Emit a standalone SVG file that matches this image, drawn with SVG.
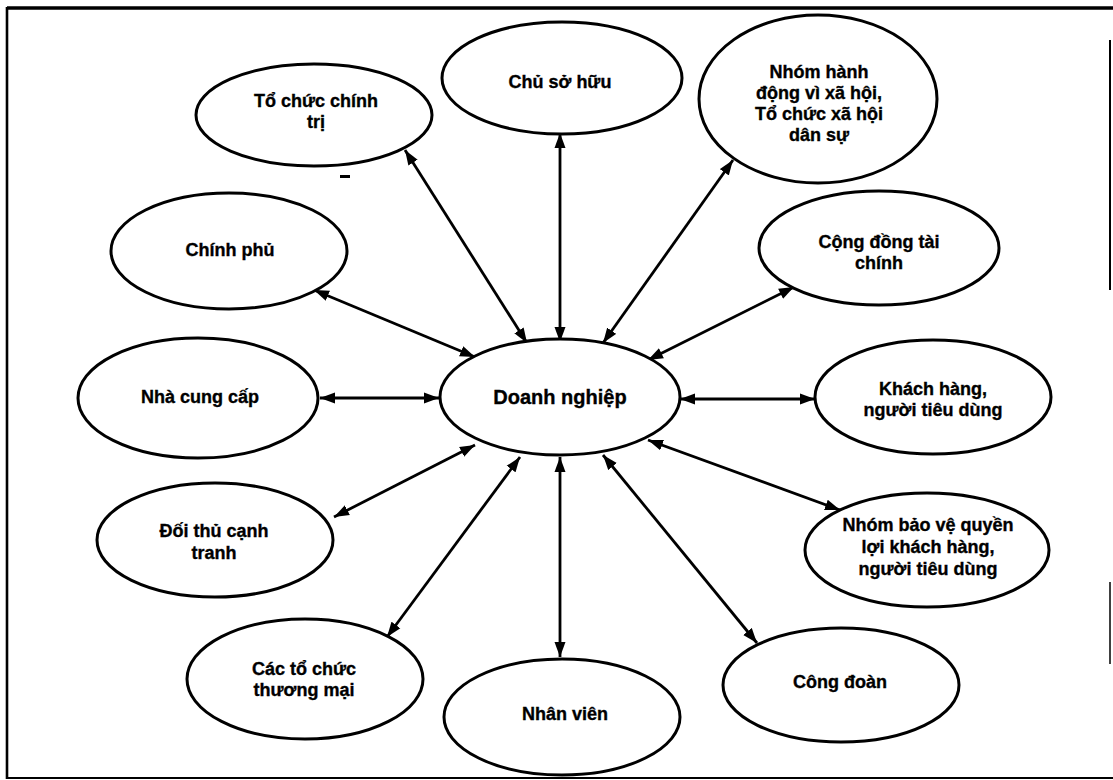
<svg xmlns="http://www.w3.org/2000/svg" width="1113" height="780" viewBox="0 0 1113 780">
<style>
.node ellipse{fill:#fff;stroke:#000;stroke-width:3}
.node text{font-family:"Liberation Sans",Arial,sans-serif;font-weight:bold;font-size:18px;fill:#000;stroke:#000;stroke-width:0.35;text-anchor:middle}
#doanh-nghiep text{font-size:20px}
#connectors line{stroke:#000;stroke-width:2.8;marker-start:url(#ah);marker-end:url(#ah)}
.frame{stroke:#000;fill:none}
</style>
<defs>
<marker id="ah" markerUnits="userSpaceOnUse" markerWidth="16" markerHeight="12" refX="15" refY="6" orient="auto-start-reverse">
<path d="M0,0.5 L15,6 L0,11.5 z" fill="#000"/>
</marker>
</defs>
<rect width="1113" height="780" fill="#fff"/>
<g id="frame">
<line class="frame" x1="7" y1="8" x2="1113" y2="8" stroke-width="3.5"/>
<line class="frame" x1="7" y1="7" x2="7" y2="779" stroke-width="2.6"/>
<line class="frame" x1="6" y1="778" x2="1113" y2="778" stroke-width="2"/>
<line class="frame" x1="1110" y1="40" x2="1110" y2="290" stroke-width="2"/>
<line class="frame" x1="1110" y1="582" x2="1110" y2="664" stroke-width="1.5"/>
<line class="frame" x1="340" y1="176.5" x2="350" y2="176.5" stroke-width="3"/>
</g>
<g id="connectors">
<line x1="405" y1="150" x2="527" y2="343"/>
<line x1="560" y1="133" x2="560" y2="342"/>
<line x1="733" y1="160" x2="603" y2="343"/>
<line x1="314" y1="290" x2="475" y2="357"/>
<line x1="794" y1="287" x2="648" y2="360"/>
<line x1="320" y1="398" x2="439" y2="398"/>
<line x1="680" y1="399" x2="815" y2="399"/>
<line x1="334" y1="517" x2="475" y2="445"/>
<line x1="648" y1="440" x2="840" y2="510"/>
<line x1="387" y1="637" x2="520" y2="457"/>
<line x1="560" y1="457" x2="560" y2="657"/>
<line x1="603" y1="455" x2="757" y2="643"/>
</g>
<g id="doanh-nghiep" class="node"><ellipse cx="560" cy="397" rx="120" ry="58"/><text x="560" y="404">Doanh nghiệp</text></g>
<g id="chu-so-huu" class="node"><ellipse cx="562" cy="78" rx="120" ry="56"/><text x="560" y="88">Chủ sở hữu</text></g>
<g id="to-chuc-chinh-tri" class="node"><ellipse cx="314" cy="115" rx="118" ry="51"/><text x="316" y="107">Tổ chức chính</text><text x="316" y="128">trị</text></g>
<g id="nhom-hanh-dong" class="node"><ellipse cx="818" cy="99" rx="119" ry="84"/><text x="819" y="78">Nhóm hành</text><text x="819" y="99">động vì xã hội,</text><text x="819" y="120">Tổ chức xã hội</text><text x="819" y="141">dân sự</text></g>
<g id="chinh-phu" class="node"><ellipse cx="229" cy="251" rx="118" ry="58"/><text x="230" y="256">Chính phủ</text></g>
<g id="cong-dong-tai-chinh" class="node"><ellipse cx="879" cy="248" rx="120" ry="57"/><text x="879" y="248">Cộng đồng tài</text><text x="879" y="269">chính</text></g>
<g id="nha-cung-cap" class="node"><ellipse cx="198" cy="398" rx="120" ry="60"/><text x="200" y="403">Nhà cung cấp</text></g>
<g id="khach-hang" class="node"><ellipse cx="933" cy="397" rx="118" ry="57"/><text x="933" y="395">Khách hàng,</text><text x="933" y="416">người tiêu dùng</text></g>
<g id="doi-thu" class="node"><ellipse cx="215" cy="540" rx="118" ry="57"/><text x="214" y="537">Đối thủ cạnh</text><text x="214" y="559">tranh</text></g>
<g id="nhom-bao-ve" class="node"><ellipse cx="927" cy="550" rx="122" ry="57"/><text x="928" y="531">Nhóm bảo vệ quyền</text><text x="928" y="553">lợi khách hàng,</text><text x="928" y="575">người tiêu dùng</text></g>
<g id="cac-to-chuc-thuong-mai" class="node"><ellipse cx="305" cy="679" rx="118" ry="60"/><text x="304" y="675">Các tổ chức</text><text x="304" y="696">thương mại</text></g>
<g id="cong-doan" class="node"><ellipse cx="841" cy="685" rx="118" ry="57"/><text x="840" y="688">Công đoàn</text></g>
<g id="nhan-vien" class="node"><ellipse cx="562" cy="717" rx="118" ry="58"/><text x="565" y="720">Nhân viên</text></g>
</svg>
